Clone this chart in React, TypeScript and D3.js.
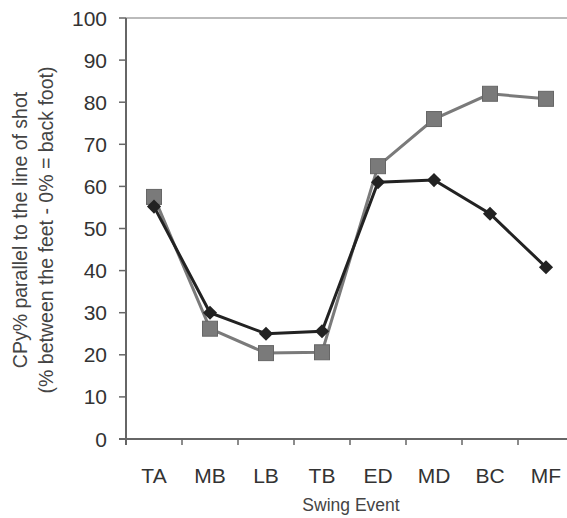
import React, { useEffect, useRef } from "react";
import * as d3 from "d3";

// data
const events = ["TA", "MB", "LB", "TB", "ED", "MD", "BC", "MF"];
const blackSeries = [55.2, 30, 25, 25.6, 61, 61.5, 53.5, 40.8];
const graySeries = [57.5, 26.2, 20.4, 20.6, 64.8, 76, 82, 80.8];
const yTicks = [0, 10, 20, 30, 40, 50, 60, 70, 80, 90, 100];

const App = () => {
  const svgRef = useRef<SVGSVGElement | null>(null);

  useEffect(() => {
    document.body.style.margin = "0";
    const width = 567;
    const height = 518;
    const marginLeft = 126;
    const marginTop = 18;
    const bottomY = 439;

    const x = d3
      .scaleBand()
      .domain(events)
      .range([marginLeft, marginLeft + 56 * events.length]);

    const y = d3.scaleLinear().domain([0, 100]).range([bottomY, marginTop]);

    const svg = d3
      .select(svgRef.current)
      .attr("width", width)
      .attr("height", height)
      .style("display", "block")
      .style("font-family", "'Liberation Sans', Arial, sans-serif");

    svg.selectAll("*").remove();

    // top frame line
    svg
      .append("line")
      .attr("x1", marginLeft)
      .attr("x2", width)
      .attr("y1", y(100))
      .attr("y2", y(100))
      .attr("stroke", "#bbb")
      .attr("stroke-width", 2);

    // y axis
    const yAxis = svg.append("g");
    yAxis
      .append("line")
      .attr("x1", marginLeft)
      .attr("x2", marginLeft)
      .attr("y1", y(100))
      .attr("y2", bottomY + 6)
      .attr("stroke", "#666")
      .attr("stroke-width", 2);
    yAxis
      .selectAll(".tick")
      .data(yTicks)
      .join("line")
      .attr("x1", marginLeft - 7)
      .attr("x2", marginLeft)
      .attr("y1", (d) => y(d))
      .attr("y2", (d) => y(d))
      .attr("stroke", "#666")
      .attr("stroke-width", 1.5);
    yAxis
      .selectAll("text")
      .data(yTicks)
      .join("text")
      .attr("x", 107)
      .attr("y", (d) => y(d))
      .attr("dy", "0.36em")
      .attr("text-anchor", "end")
      .attr("font-size", 21)
      .attr("fill", "#333")
      .text((d) => d);

    // x axis
    const xAxis = svg.append("g");
    xAxis
      .append("line")
      .attr("x1", marginLeft - 7)
      .attr("x2", width)
      .attr("y1", bottomY)
      .attr("y2", bottomY)
      .attr("stroke", "#666")
      .attr("stroke-width", 2);
    xAxis
      .selectAll(".tick")
      .data(events)
      .join("line")
      .attr("x1", (d) => x(d)!)
      .attr("x2", (d) => x(d)!)
      .attr("y1", bottomY)
      .attr("y2", bottomY + 6)
      .attr("stroke", "#666")
      .attr("stroke-width", 1.5);
    xAxis
      .selectAll("text")
      .data(events)
      .join("text")
      .attr("x", (d) => x(d)! + x.bandwidth() / 2)
      .attr("y", 483)
      .attr("text-anchor", "middle")
      .attr("font-size", 21)
      .attr("fill", "#333")
      .text((d) => d);

    svg
      .append("text")
      .attr("x", 351)
      .attr("y", 511)
      .attr("text-anchor", "middle")
      .attr("font-size", 17.5)
      .attr("fill", "#444")
      .text("Swing Event");

    // y title
    const yt = svg
      .append("text")
      .attr("transform", `translate(27,${230}) rotate(-90)`)
      .attr("text-anchor", "middle")
      .attr("font-size", 19.5)
      .attr("fill", "#444");
    yt.append("tspan").attr("x", 0).attr("dy", 0).text("CPy% parallel to the line of shot");
    yt.append("tspan")
      .attr("x", 0)
      .attr("dy", 26)
      .text("(% between the feet - 0% = back foot)");

    const cx = (i: number) => x(events[i])! + x.bandwidth() / 2;
    const line = d3
      .line<number>()
      .x((_, i) => cx(i))
      .y((d) => y(d));

    // gray series
    svg
      .append("path")
      .datum(graySeries)
      .attr("fill", "none")
      .attr("stroke", "#7a7a7a")
      .attr("stroke-width", 3)
      .attr("d", line);
    svg
      .append("g")
      .selectAll("rect")
      .data(graySeries)
      .join("rect")
      .attr("x", (_, i) => cx(i) - 7.5)
      .attr("y", (d) => y(d) - 7.5)
      .attr("width", 15)
      .attr("height", 15)
      .attr("fill", "#7a7a7a")
      .attr("stroke", "#666")
      .attr("stroke-width", 1);

    // black series
    svg
      .append("path")
      .datum(blackSeries)
      .attr("fill", "none")
      .attr("stroke", "#222")
      .attr("stroke-width", 3)
      .attr("d", line);
    svg
      .append("g")
      .selectAll("path")
      .data(blackSeries)
      .join("path")
      .attr("transform", (d, i) => `translate(${cx(i)},${y(d)}) rotate(45)`)
      .attr("d", "M-5,-5H5V5H-5Z")
      .attr("fill", "#222");
  }, []);

  return <svg ref={svgRef} />;
};

export default App;
